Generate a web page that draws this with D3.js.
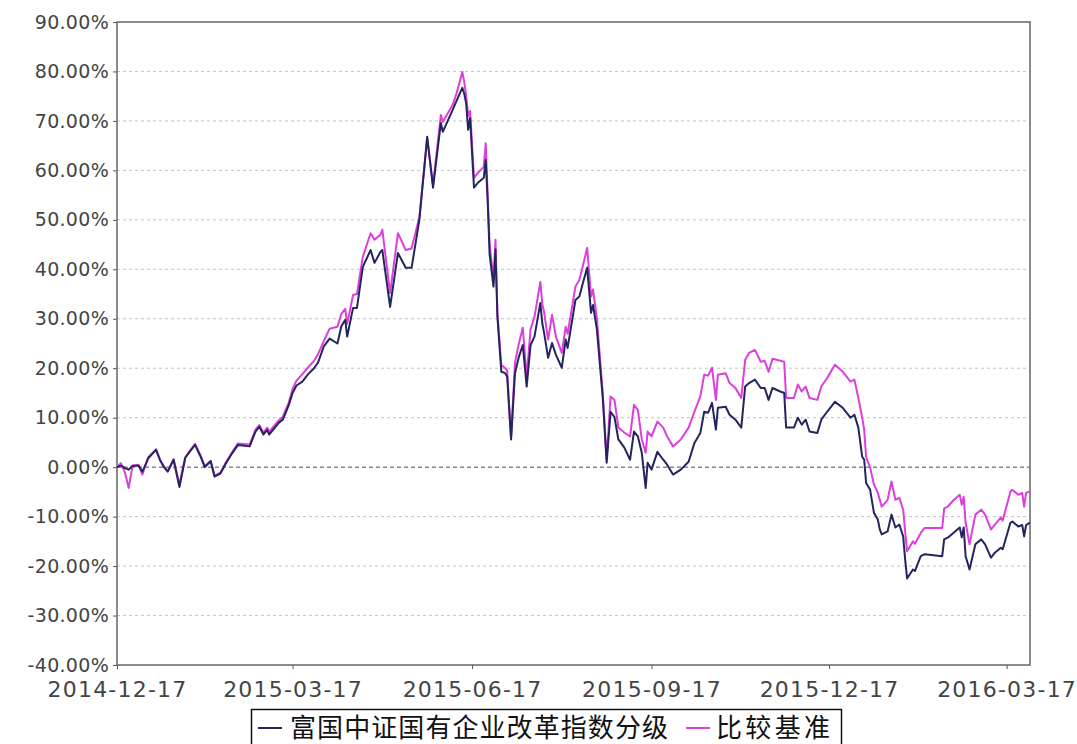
<!DOCTYPE html>
<html>
<head>
<meta charset="utf-8">
<script src="https://cdn.jsdelivr.net/npm/d3@7"></script>
<style>
  body { margin: 0; background: #fff; }
  svg { display: block; }
</style>
</head>
<body>
<svg id="chart" width="1077" height="744"></svg>
<script>
// trading dates (sampled) and cumulative return (%) for both series
const dates = [
  "2014-12-17","2014-12-19","2014-12-21","2014-12-23","2014-12-25","2014-12-28","2014-12-30","2015-01-01","2015-01-02","2015-01-06",
  "2015-01-08","2015-01-10","2015-01-12","2015-01-15","2015-01-18","2015-01-21","2015-01-23","2015-01-26","2015-01-29","2015-01-31",
  "2015-02-03","2015-02-05","2015-02-08","2015-02-11","2015-02-14","2015-02-17","2015-02-23","2015-02-26","2015-02-28","2015-03-02",
  "2015-03-04","2015-03-05","2015-03-10","2015-03-12","2015-03-15","2015-03-17","2015-03-19","2015-03-22","2015-03-25","2015-03-28",
  "2015-03-30","2015-04-02","2015-04-05","2015-04-09","2015-04-11","2015-04-13","2015-04-14","2015-04-17","2015-04-19","2015-04-22",
  "2015-04-26","2015-04-28","2015-05-01","2015-05-02","2015-05-06","2015-05-10","2015-05-14","2015-05-17","2015-05-21","2015-05-25",
  "2015-05-28","2015-06-01","2015-06-02","2015-06-07","2015-06-09","2015-06-12","2015-06-13","2015-06-14","2015-06-15","2015-06-16",
  "2015-06-18","2015-06-20","2015-06-23","2015-06-24","2015-06-25","2015-06-26","2015-06-28","2015-06-29","2015-06-30","2015-07-02",
  "2015-07-04","2015-07-05","2015-07-07","2015-07-09","2015-07-11","2015-07-13","2015-07-15","2015-07-17","2015-07-19","2015-07-22",
  "2015-07-23","2015-07-24","2015-07-26","2015-07-28","2015-07-30","2015-08-02","2015-08-04","2015-08-05","2015-08-09","2015-08-11",
  "2015-08-13","2015-08-15","2015-08-17","2015-08-18","2015-08-20","2015-08-23","2015-08-25","2015-08-27","2015-08-29","2015-08-31",
  "2015-09-03","2015-09-06","2015-09-08","2015-09-10","2015-09-12","2015-09-14","2015-09-15","2015-09-17","2015-09-20","2015-09-23",
  "2015-09-25","2015-09-28","2015-10-02","2015-10-06","2015-10-09","2015-10-12","2015-10-14","2015-10-16","2015-10-18","2015-10-20",
  "2015-10-21","2015-10-25","2015-10-27","2015-10-30","2015-11-02","2015-11-04","2015-11-06","2015-11-09","2015-11-12","2015-11-14",
  "2015-11-16","2015-11-18","2015-11-22","2015-11-24","2015-11-25","2015-11-29","2015-12-01","2015-12-03","2015-12-05","2015-12-07",
  "2015-12-11","2015-12-13","2015-12-16","2015-12-20","2015-12-24","2015-12-28","2015-12-30","2016-01-01","2016-01-03","2016-01-04",
  "2016-01-05","2016-01-07","2016-01-09","2016-01-11","2016-01-12","2016-01-13","2016-01-16","2016-01-18","2016-01-20","2016-01-22",
  "2016-01-24","2016-01-25","2016-01-26","2016-01-29","2016-01-30","2016-02-02","2016-02-04","2016-02-13","2016-02-14","2016-02-16",
  "2016-02-19","2016-02-22","2016-02-23","2016-02-24","2016-02-25","2016-02-27","2016-03-01","2016-03-04","2016-03-06","2016-03-09",
  "2016-03-11","2016-03-14","2016-03-15","2016-03-19","2016-03-20","2016-03-23","2016-03-25","2016-03-26","2016-03-27","2016-03-29"
];

const fundValues = [
  0, 0.3, -0.2, -0.5, 0.3, 0.3, -0.9, 0.8, 1.8, 3.5,
  1.5, 0, -0.9, 1.5, -4, 1.9, 3, 4.5, 2, 0,
  1.2, -1.9, -1.3, 0.9, 2.8, 4.5, 4.2, 7.2, 8.2, 6.6,
  7.5, 6.6, 9, 9.6, 12.5, 15, 16.5, 17.3, 18.8, 20,
  21.1, 24.4, 26, 25, 28.5, 29.8, 26.4, 32.2, 32.2, 40.5,
  43.9, 41.3, 43.5, 43.9, 32.4, 43.3, 40.3, 40.3, 50, 66.8,
  56.5, 69.6, 67.8, 72.2, 74, 76.7, 75.5, 73.5, 68.2, 70.6,
  56.5, 57.5, 58.5, 62.1, 54, 43, 36.5, 44, 30.4, 19.3,
  19, 18.3, 5.6, 19, 22.3, 24.7, 16.3, 24.7, 26.4, 33.2,
  29.1, 27, 22.1, 25.1, 22.7, 20.1, 25.8, 24.1, 33.8, 34.5,
  37.5, 40.3, 31.2, 32.8, 27.8, 14, 0.9, 11.2, 10.1, 5.6,
  4, 1.5, 7.2, 6.2, 2.9, -4.2, 0.9, -0.5, 3.1, 1.5,
  0.5, -1.5, -0.5, 1.1, 4.9, 6.9, 11.2, 11, 13, 7.6,
  12, 12.2, 10.6, 9.6, 8, 16.3, 17, 17.7, 16, 16,
  13.6, 16, 15.3, 15, 8, 8, 10, 8.6, 9.6, 7.2,
  6.9, 9.6, 11.2, 13.2, 12, 10, 10.6, 8, 2.1, 1.5,
  -3.2, -4.5, -9.2, -10.6, -12.6, -13.6, -13, -9.6, -12.2, -11.6,
  -14, -18.7, -22.5, -20.7, -21, -18, -17.6, -18, -14.6, -14.2,
  -13.2, -12.2, -14.2, -12.2, -18, -20.7, -15.6, -14.6, -15.6, -18.3,
  -17.3, -16.3, -16.6, -11.2, -11, -12, -11.7, -14, -11.7, -11.2
];

const benchValues = [
  0, 0.8, -1.0, -4.2, 0.3, 0.5, -1.5, 0.9, 2.0, 3.6,
  1.5, 0.2, -0.8, 1.6, -3.5, 2.0, 3.1, 4.7, 2.2, 0.2,
  1.3, -1.7, -1.1, 1.1, 3, 4.8, 4.6, 7.6, 8.5, 7.0,
  8, 7.2, 9.5, 10.2, 13, 15.8, 17.5, 18.8, 20.2, 21.5,
  22.8, 25.5, 28, 28.4, 31, 32, 29, 34.8, 35, 42.5,
  47.3, 46, 47, 48, 35.2, 47.3, 43.9, 44.2, 50.6, 66.5,
  57, 71.2, 69.8, 73.2, 75.5, 79.9, 77.9, 75, 71, 72,
  58.5, 59.5, 60.7, 65.5, 55, 45, 37.9, 46, 31, 20.7,
  20, 19.5, 5.9, 21.1, 25, 28.2, 18.3, 27.9, 30.4, 37.5,
  33, 31.2, 25.8, 30.8, 26.4, 23.1, 28.4, 27, 36.5, 37.9,
  41, 44.3, 34.5, 35.9, 30, 15, 1.5, 14.3, 13.6, 8,
  7, 6.2, 12.6, 11.6, 5.6, 2.9, 7.2, 6.2, 9.2, 8,
  6.2, 4.2, 5.6, 8, 11.2, 14.3, 18.7, 18.5, 20.1, 13.6,
  18.7, 19, 17, 16, 14, 21.7, 23.1, 23.7, 21.3, 21.5,
  19.3, 21.9, 21.5, 21.3, 14, 14, 16.7, 15.3, 16.3, 14,
  13.6, 16.3, 18, 20.7, 19.3, 17.3, 17.7, 14, 10, 7.6,
  2, 0, -3.5, -5.2, -6.6, -8, -6.6, -2.9, -6.6, -6.2,
  -8.6, -13, -17, -15, -15.5, -13.3, -12.3, -12.3, -8.4, -7.9,
  -6.6, -5.6, -7.6, -6, -11.2, -15.6, -9.6, -8.6, -9.6, -12.6,
  -11.6, -10.2, -10.8, -4.9, -4.6, -5.6, -5.2, -8, -5.2, -4.9
];

const yTicks = [90, 80, 70, 60, 50, 40, 30, 20, 10, 0, -10, -20, -30, -40];
const xTickLabels = ["2014-12-17", "2015-03-17", "2015-06-17", "2015-09-17", "2015-12-17", "2016-03-17"];
const seriesNames = ["富国中证国有企业改革指数分级", "比较基准"];
const seriesColors = ["#24245e", "#dc3fdc"];

const parse = d3.timeParse("%Y-%m-%d");
const svg = d3.select("#chart");

const margin = { left: 117, top: 22, right: 1030, bottom: 665 };

const x = d3.scaleTime()
  .domain([parse("2014-12-17"), parse("2016-03-29")])
  .range([margin.left, margin.right]);

const y = d3.scaleLinear()
  .domain([-40, 90])
  .range([margin.bottom, margin.top]);

// grid lines
svg.append("g")
  .selectAll("line")
  .data(yTicks.filter(t => t !== 90 && t !== -40))
  .enter()
  .append("line")
  .attr("x1", margin.left)
  .attr("x2", margin.right)
  .attr("y1", d => y(d))
  .attr("y2", d => y(d))
  .attr("stroke", d => d === 0 ? "#4a4a6a" : "#c4c4c4")
  .attr("stroke-width", 1)
  .attr("stroke-dasharray", d => d === 0 ? "4,3" : "3,3");

// y axis
const yAxis = svg.append("g")
  .attr("transform", `translate(${margin.left},0)`)
  .call(d3.axisLeft(y).tickValues(yTicks).tickSize(4).tickPadding(4)
    .tickFormat(d => d.toFixed(2) + "%"));
yAxis.select(".domain").remove();
yAxis.selectAll(".tick line").attr("stroke", "#555");
yAxis.selectAll("text")
  .attr("font-family", "DejaVu Sans")
  .attr("font-size", 19)
  .attr("letter-spacing", 0.3)
  .attr("fill", "#444");

// x axis
const xAxis = svg.append("g")
  .attr("transform", `translate(0,${margin.bottom})`)
  .call(d3.axisBottom(x).tickValues(xTickLabels.map(parse)).tickSize(4).tickPadding(12)
    .tickFormat(d3.timeFormat("%Y-%m-%d")));
xAxis.select(".domain").remove();
xAxis.selectAll(".tick line").attr("stroke", "#555");
xAxis.selectAll("text")
  .attr("font-family", "DejaVu Sans")
  .attr("font-size", 22)
  .attr("letter-spacing", 1.2)
  .attr("fill", "#444");

// frame
svg.append("rect")
  .attr("x", margin.left)
  .attr("y", margin.top)
  .attr("width", margin.right - margin.left)
  .attr("height", margin.bottom - margin.top)
  .attr("fill", "none")
  .attr("stroke", "#666")
  .attr("stroke-width", 1.5);

// lines
const points = dates.map((d, i) => ({ date: parse(d), fund: fundValues[i], bench: benchValues[i] }));

const line = key => d3.line()
  .x(d => x(d.date))
  .y(d => y(d[key]));

svg.append("path")
  .datum(points)
  .attr("fill", "none")
  .attr("stroke", seriesColors[1])
  .attr("stroke-width", 2)
  .attr("stroke-linejoin", "round")
  .attr("d", line("bench"));

svg.append("path")
  .datum(points)
  .attr("fill", "none")
  .attr("stroke", seriesColors[0])
  .attr("stroke-width", 2)
  .attr("stroke-linejoin", "round")
  .attr("d", line("fund"));

// legend
const legend = svg.append("g");
legend.append("rect")
  .attr("x", 251.5)
  .attr("y", 709.5)
  .attr("width", 590)
  .attr("height", 40)
  .attr("fill", "#fff")
  .attr("stroke", "#111")
  .attr("stroke-width", 1.5);

const legendItems = [
  { lx: 258, tx: 290, tw: 378 },
  { lx: 686, tx: 716, tw: 114 }
];
legendItems.forEach((it, i) => {
  legend.append("line")
    .attr("x1", it.lx).attr("x2", it.lx + 24)
    .attr("y1", 728).attr("y2", 728)
    .attr("stroke", seriesColors[i])
    .attr("stroke-width", 2);
  legend.append("text")
    .attr("x", it.tx)
    .attr("y", 737)
    .attr("font-family", "Noto Sans CJK SC")
    .attr("font-size", 26)
    .attr("fill", "#111")
    .attr("textLength", it.tw)
    .attr("lengthAdjust", "spacing")
    .text(seriesNames[i]);
});
</script>
</body>
</html>
